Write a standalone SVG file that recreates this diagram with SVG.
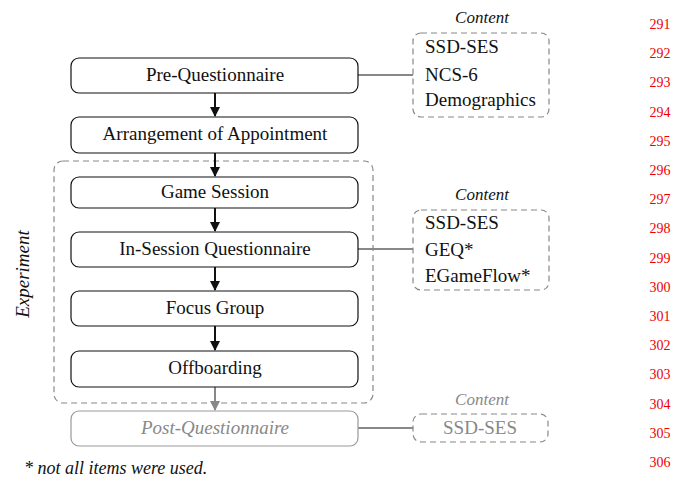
<svg xmlns="http://www.w3.org/2000/svg" width="685" height="480" viewBox="0 0 685 480" font-family="'Liberation Serif', 'DejaVu Serif', serif">
<style>
text{font-family:'Liberation Serif','DejaVu Serif',serif;font-size:19px;fill:#111}
.node rect{fill:#fff;stroke:#111;stroke-width:1.2}
.c{text-anchor:middle}
.it{font-style:italic}
.grey{fill:#888}
.dash{fill:none;stroke:#888;stroke-width:1.2;stroke-dasharray:6 4}
.lbl{font-size:17px}
.ln{font-size:14px;fill:#e00;text-anchor:middle}
.arr{stroke:#111;stroke-width:2;fill:none}
.link{stroke:#888;stroke-width:2;fill:none}
</style>
<defs>
<marker id="ah" viewBox="0 0 10 10" refX="9" refY="5" markerWidth="5" markerHeight="5" orient="auto"><path d="M0,0L10,5L0,10z" fill="#111"/></marker>
<marker id="ahg" viewBox="0 0 10 10" refX="9" refY="5" markerWidth="5" markerHeight="5" orient="auto"><path d="M0,0L10,5L0,10z" fill="#888"/></marker>
</defs>
<rect width="685" height="480" fill="#fff"/>
<g id="experiment">
<rect class="dash" x="54" y="161" width="319" height="242" rx="9"/>
<text class="it c" transform="translate(29,274) rotate(-90)">Experiment</text>
</g>
<g id="connectors">
<line class="arr" x1="215" y1="93" x2="215" y2="116" marker-end="url(#ah)"/>
<line class="arr" x1="215" y1="153" x2="215" y2="176" marker-end="url(#ah)"/>
<line class="arr" x1="215" y1="208" x2="215" y2="231" marker-end="url(#ah)"/>
<line class="arr" x1="215" y1="267" x2="215" y2="290" marker-end="url(#ah)"/>
<line class="arr" x1="215" y1="326" x2="215" y2="350" marker-end="url(#ah)"/>
<line class="arr" x1="215" y1="387" x2="215" y2="410" style="stroke:#888" marker-end="url(#ahg)"/>
<line class="link" x1="358" y1="75" x2="413" y2="75"/>
<line class="link" x1="358" y1="249" x2="413" y2="249"/>
<line class="link" x1="358" y1="428" x2="413" y2="428"/>
</g>
<g id="pre" class="node"><rect x="71" y="58" width="287" height="35" rx="8"/><text class="c" x="215" y="81">Pre-Questionnaire</text></g>
<g id="arrangement" class="node"><rect x="71" y="117" width="287" height="36" rx="8"/><text class="c" x="215" y="140">Arrangement of Appointment</text></g>
<g id="game" class="node"><rect x="71" y="177" width="287" height="31" rx="8"/><text class="c" x="215" y="198">Game Session</text></g>
<g id="insession" class="node"><rect x="71" y="232" width="287" height="35" rx="8"/><text class="c" x="215" y="255">In-Session Questionnaire</text></g>
<g id="focus" class="node"><rect x="71" y="291" width="287" height="35" rx="8"/><text class="c" x="215" y="314">Focus Group</text></g>
<g id="offboarding" class="node"><rect x="71" y="351" width="287" height="36" rx="8"/><text class="c" x="215" y="374">Offboarding</text></g>
<g id="post" class="node"><rect x="71" y="411" width="287" height="35" rx="8" style="stroke:#999"/><text class="c it grey" x="215" y="434">Post-Questionnaire</text></g>
<g id="content1">
<text class="c it lbl" x="482" y="23">Content</text>
<rect class="dash" x="413" y="33" width="136" height="84" rx="8"/>
<text x="425" y="53">SSD-SES</text>
<text x="425" y="81">NCS-6</text>
<text x="425" y="106">Demographics</text>
</g>
<g id="content2">
<text class="c it lbl" x="482" y="200">Content</text>
<rect class="dash" x="413" y="210" width="136" height="80" rx="8"/>
<text x="425" y="229">SSD-SES</text>
<text x="425" y="256">GEQ*</text>
<text x="425" y="282">EGameFlow*</text>
</g>
<g id="content3">
<text class="c it grey lbl" x="482" y="405">Content</text>
<rect class="dash" x="413" y="414" width="135" height="28" rx="8"/>
<text class="c grey" x="480" y="434">SSD-SES</text>
</g>
<text class="it" x="24" y="474" style="font-size:18px">* not all items were used.</text>
<g id="linenumbers">
<text class="ln" x="660" y="29">291</text>
<text class="ln" x="660" y="58">292</text>
<text class="ln" x="660" y="87">293</text>
<text class="ln" x="660" y="117">294</text>
<text class="ln" x="660" y="146">295</text>
<text class="ln" x="660" y="175">296</text>
<text class="ln" x="660" y="204">297</text>
<text class="ln" x="660" y="233">298</text>
<text class="ln" x="660" y="263">299</text>
<text class="ln" x="660" y="292">300</text>
<text class="ln" x="660" y="321">301</text>
<text class="ln" x="660" y="350">302</text>
<text class="ln" x="660" y="379">303</text>
<text class="ln" x="660" y="409">304</text>
<text class="ln" x="660" y="438">305</text>
<text class="ln" x="660" y="467">306</text>
</g>
</svg>
